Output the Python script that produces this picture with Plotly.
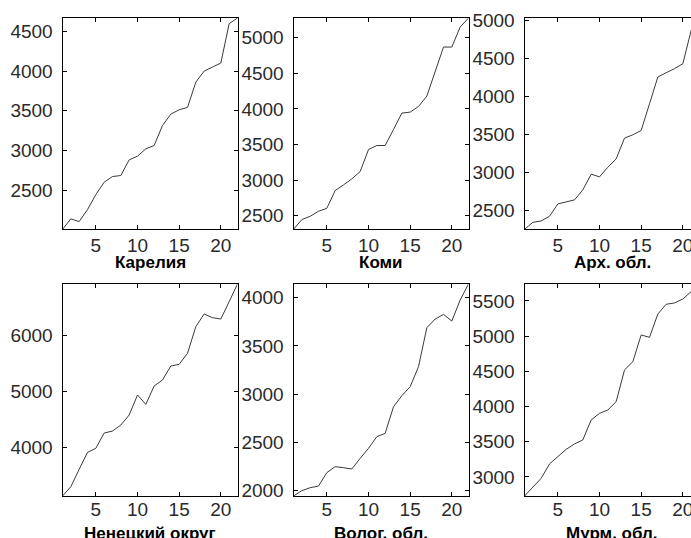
import plotly.graph_objects as go

# ---- data ----
periods = list(range(1, 23))

regions = ["Карелия", "Коми", "Арх. обл.", "Ненецкий округ", "Волог. обл.", "Мурм. обл."]

karelia = [2008, 2139, 2105, 2256, 2445, 2601, 2672, 2685, 2882, 2929, 3021,
           3063, 3315, 3458, 3513, 3542, 3861, 4000, 4050, 4101, 4597, 4668]
komi = [2309, 2445, 2492, 2562, 2604, 2853, 2933, 3017, 3120, 3429, 3486,
        3486, 3711, 3941, 3955, 4034, 4180, 4541, 4869, 4869, 5150, 5277]
arkh = [2249, 2341, 2359, 2421, 2584, 2610, 2637, 2769, 2976, 2941, 3068,
        3178, 3452, 3496, 3553, 3905, 4258, 4315, 4368, 4434, 4874, 5037]
nenets = [3120, 3287, 3599, 3904, 3976, 4251, 4287, 4395, 4575, 4934, 4766,
          5096, 5204, 5455, 5485, 5683, 6162, 6389, 6323, 6299, 6611, 6928]
vologda = [1945, 2000, 2031, 2048, 2187, 2249, 2238, 2225, 2335, 2439, 2560,
           2594, 2870, 2984, 3078, 3285, 3689, 3779, 3827, 3758, 3976, 4142]
murmansk = [2730, 2853, 2981, 3185, 3289, 3393, 3469, 3526, 3810, 3904, 3952,
            4070, 4520, 4638, 5017, 4984, 5315, 5453, 5472, 5528, 5633, 5741]

series = [karelia, komi, arkh, nenets, vologda, murmansk]

x_tick_vals = [5, 10, 15, 20]
y_tick_steps = [500, 500, 500, 1000, 500, 500]

# ---- layout geometry (pixels) ----
W, H = 691, 538
col_left = [62.5, 293.5, 524.5]
col_w = 175.0
row_top = [18.0, 284.0]
row_bot = [229.3, 496.0]
label_y = [262.5, 533.5]
x_label_standoff = [-1, -4]

tick_font = dict(family="Liberation Sans, Arial, sans-serif", size=19, color="#2a2a2a")
label_font = dict(family="Liberation Sans, Arial, sans-serif", size=17, color="#000000")

fig = go.Figure()
layout = dict(width=W, height=H, margin=dict(l=0, r=0, t=0, b=0, autoexpand=False),
              paper_bgcolor="white", plot_bgcolor="white", showlegend=False,
              annotations=[])

for i, (name, ys) in enumerate(zip(regions, series)):
    r, c = divmod(i, 3)
    k = i + 1
    left = col_left[c]
    right = min(left + col_w, W)
    x0, x1 = left / W, right / W
    y0, y1 = 1 - row_bot[r] / H, 1 - row_top[r] / H
    x_end = periods[0] + (periods[-1] - periods[0]) * (right - left) / col_w
    clipped = right < left + col_w

    fig.add_trace(go.Scatter(x=periods, y=ys, mode="lines",
                             line=dict(color="#3a3a3a", width=1),
                             xaxis=f"x{k}", yaxis=f"y{k}", hoverinfo="skip"))

    layout[f"xaxis{k}"] = dict(
        domain=[x0, x1], anchor=f"y{k}", range=[periods[0], x_end],
        tickvals=x_tick_vals, ticks="inside", ticklen=4, tickcolor="black",
        showline=True, linecolor="black", linewidth=1, mirror="ticks",
        showgrid=False, zeroline=False, tickfont=tick_font, automargin=False,
        ticklabelstandoff=x_label_standoff[r], ticklabeloverflow="allow",
        fixedrange=True)
    layout[f"yaxis{k}"] = dict(
        domain=[y0, y1], anchor=f"x{k}", range=[min(ys), max(ys)],
        dtick=y_tick_steps[i], tick0=0, ticks="inside", ticklen=4, tickcolor="black",
        showline=True, linecolor="black", linewidth=1,
        mirror=False if clipped else "ticks", automargin=False,
        showgrid=False, zeroline=False, tickfont=tick_font,
        ticklabelstandoff=5, ticklabeloverflow="allow", fixedrange=True)
    layout["annotations"].append(dict(
        text=f"<b>{name}</b>", xref="paper", yref="paper",
        x=(left + col_w / 2) / W, y=1 - label_y[r] / H,
        xanchor="center", yanchor="middle", showarrow=False, font=label_font))

fig.update_layout(**layout)
fig.write_html("out.html")
